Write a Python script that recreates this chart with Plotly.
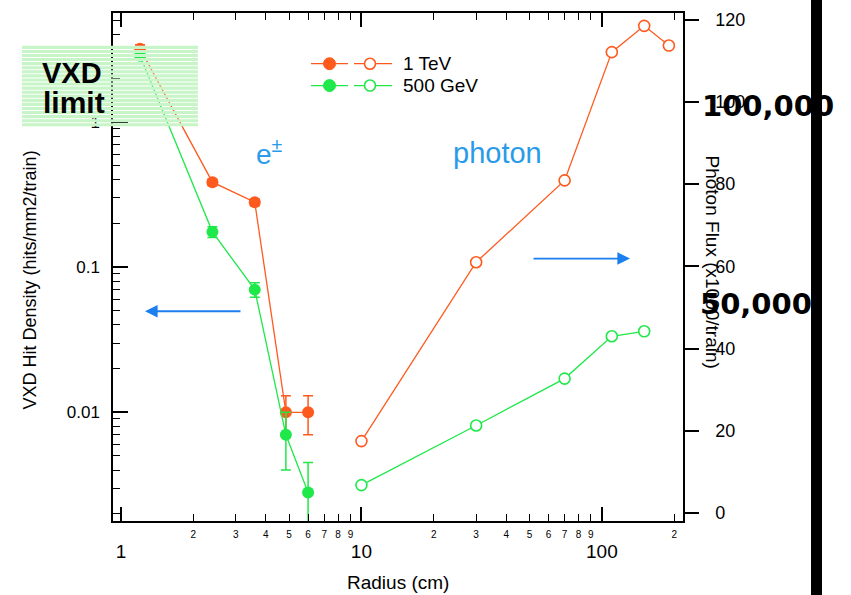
import plotly.graph_objects as go

# ---------------- data ----------------
radius_vxd = [1.2, 2.4, 3.6, 4.85, 6.0]
hits_1tev = [3.2, 0.385, 0.28, 0.0100, 0.0100]
err_1tev = [0.2, 0.02, 0.015, 0.003, 0.003]
hits_500gev = [2.86, 0.175, 0.070, 0.0070, 0.0028]
err_500gev = [0.15, 0.015, 0.008, 0.003, 0.0017]

radius_photon_1tev = [10, 30, 70, 110, 150, 190]
flux_1tev = [17.5, 61.0, 80.9, 112.1, 118.5, 113.7]
radius_photon_500gev = [10, 30, 70, 110, 150]
flux_500gev = [6.8, 21.3, 32.7, 43.0, 44.2]

x_major_vals = [1, 10, 100]
x_major_text = ["1", "10", "100"]
x_minor_vals = [2, 3, 4, 5, 6, 7, 8, 9, 20, 30, 40, 50, 60, 70, 80, 90, 200]
x_minor_text = ["2", "3", "4", "5", "6", "7", "8", "9", "2", "3", "4", "5", "6", "7", "8", "9", "2"]
y_major_vals = [0.01, 0.1, 1]
y_major_text = ["0.01", "0.1", "1"]
y_minor_vals = [m * d for d in [0.001, 0.01, 0.1, 1] for m in range(2, 10)]
y2_vals = [0, 20, 40, 60, 80, 100, 120]

ORANGE = "#ff5a1e"
GREEN = "#1fe84a"
BLUE = "#2a9be8"
ARROW = "#1b7ff0"

# ---------------- geometry helpers (pixels -> paper) ----------------
W, H = 851, 595
L, R, T, B = 113, 683, 10, 521
PW, PH = R - L, B - T


def px(x):
    return (x - L) / PW


def py(y):
    return (B - y) / PH


FONT = "Liberation Sans, Arial, Helvetica, sans-serif"

fig = go.Figure()

# filled series (left log axis)
fig.add_trace(go.Scatter(
    x=radius_vxd, y=hits_1tev, mode="lines+markers",
    line=dict(color=ORANGE, width=1.3),
    marker=dict(color=ORANGE, size=12, symbol="circle"),
    error_y=dict(type="data", array=err_1tev, color=ORANGE, thickness=1.5, width=5),
    xaxis="x", yaxis="y", showlegend=False))
fig.add_trace(go.Scatter(
    x=radius_vxd, y=hits_500gev, mode="lines+markers",
    line=dict(color=GREEN, width=1.3),
    marker=dict(color=GREEN, size=12, symbol="circle"),
    error_y=dict(type="data", array=err_500gev, color=GREEN, thickness=1.5, width=5),
    xaxis="x", yaxis="y", showlegend=False))

# open series (right linear axis)
fig.add_trace(go.Scatter(
    x=radius_photon_1tev, y=flux_1tev, mode="lines+markers",
    line=dict(color=ORANGE, width=1.3),
    marker=dict(color="white", size=11, symbol="circle", line=dict(color=ORANGE, width=1.6)),
    xaxis="x", yaxis="y2", showlegend=False))
fig.add_trace(go.Scatter(
    x=radius_photon_500gev, y=flux_500gev, mode="lines+markers",
    line=dict(color=GREEN, width=1.3),
    marker=dict(color="white", size=11, symbol="circle", line=dict(color=GREEN, width=1.6)),
    xaxis="x", yaxis="y2", showlegend=False))

# invisible trace so the minor-digit label axis (x2) is drawn
fig.add_trace(go.Scatter(
    x=radius_photon_1tev, y=flux_1tev, mode="markers",
    marker=dict(opacity=0, size=1), hoverinfo="skip",
    xaxis="x2", yaxis="y2", showlegend=False))

shapes = []
annotations = []

# VXD limit striped box (drawn above data)
box_x0, box_x1, box_y0, box_y1 = 22, 198, 43, 125
yy = box_y0
while yy < box_y1:
    y_end = min(yy + 3.1, box_y1)
    shapes.append(dict(type="rect", xref="paper", yref="paper",
                       x0=px(box_x0), x1=px(box_x1), y0=py(y_end), y1=py(yy),
                       fillcolor="#c8f5c8", line=dict(width=0), layer="above"))
    yy += 4.1

# legend (manual, two markers per row)
legend_rows = [(61, ORANGE, "1 TeV"), (83, GREEN, "500 GeV")]
for ry, col, label in legend_rows:
    shapes.append(dict(type="line", xref="paper", yref="paper",
                       x0=px(311), x1=px(348), y0=py(ry), y1=py(ry),
                       line=dict(color=col, width=1.3), layer="above"))
    shapes.append(dict(type="line", xref="paper", yref="paper",
                       x0=px(354), x1=px(392), y0=py(ry), y1=py(ry),
                       line=dict(color=col, width=1.3), layer="above"))
    shapes.append(dict(type="circle", xref="paper", yref="paper",
                       xsizemode="pixel", ysizemode="pixel",
                       xanchor=px(329.5), yanchor=py(ry),
                       x0=-6, x1=6, y0=-6, y1=6,
                       fillcolor=col, line=dict(color=col, width=1), layer="above"))
    shapes.append(dict(type="circle", xref="paper", yref="paper",
                       xsizemode="pixel", ysizemode="pixel",
                       xanchor=px(370), yanchor=py(ry),
                       x0=-5.5, x1=5.5, y0=-5.5, y1=5.5,
                       fillcolor="white", line=dict(color=col, width=1.6), layer="above"))
    annotations.append(dict(text=label, xref="paper", yref="paper",
                            x=px(401), y=py(ry), xanchor="left", yanchor="middle",
                            showarrow=False, font=dict(family=FONT, size=19, color="black")))

# black vertical bar at right
shapes.append(dict(type="rect", xref="paper", yref="paper",
                   x0=px(811), x1=px(822), y0=py(600), y1=py(-5),
                   fillcolor="black", line=dict(width=0), layer="above"))

# VXD limit text
annotations.append(dict(text="<b>VXD</b>", xref="paper", yref="paper",
                        x=px(72), y=py(70), xanchor="center", yanchor="middle",
                        showarrow=False, font=dict(family=FONT, size=29, color="black")))
annotations.append(dict(text="<b>limit</b>", xref="paper", yref="paper",
                        x=px(74), y=py(100), xanchor="center", yanchor="middle",
                        showarrow=False, font=dict(family=FONT, size=30, color="black")))

# e± and photon labels
annotations.append(dict(text="e<sup>±</sup>", xref="paper", yref="paper",
                        x=px(269), y=py(150), xanchor="center", yanchor="middle",
                        showarrow=False, font=dict(family=FONT, size=28, color=BLUE)))
annotations.append(dict(text="photon", xref="paper", yref="paper",
                        x=px(497), y=py(151), xanchor="center", yanchor="middle",
                        showarrow=False, font=dict(family=FONT, size=29, color=BLUE)))

# arrows
annotations.append(dict(text="", xref="paper", yref="paper",
                        x=px(145), y=py(310), ax=242 - 145, ay=0,
                        showarrow=True, arrowhead=2, arrowsize=1.4, arrowwidth=1.8,
                        arrowcolor=ARROW, standoff=0))
annotations.append(dict(text="", xref="paper", yref="paper",
                        x=px(630), y=py(257), ax=532 - 630, ay=0,
                        showarrow=True, arrowhead=2, arrowsize=1.4, arrowwidth=1.8,
                        arrowcolor=ARROW, standoff=0))

# axis titles
annotations.append(dict(text="Radius (cm)", xref="paper", yref="paper",
                        x=px(398), y=py(583), xanchor="center", yanchor="middle",
                        showarrow=False, font=dict(family=FONT, size=19, color="black")))
annotations.append(dict(text="VXD Hit Density (hits/mm2/train)", xref="paper", yref="paper",
                        x=px(30), y=py(279), xanchor="center", yanchor="middle", textangle=-90,
                        showarrow=False, font=dict(family=FONT, size=18, color="black")))
annotations.append(dict(text="Photon Flux (x1000/train)", xref="paper", yref="paper",
                        x=px(712), y=py(260), xanchor="center", yanchor="middle", textangle=90,
                        showarrow=False, font=dict(family=FONT, size=19, color="black")))

# big overlay numbers
annotations.append(dict(text="<b>100,000</b>", xref="paper", yref="paper",
                        x=px(700), y=py(104), xanchor="left", yanchor="middle",
                        showarrow=False, font=dict(family="DejaVu Sans", size=29, color="black")))
annotations.append(dict(text="<b>50,000</b>", xref="paper", yref="paper",
                        x=px(698), y=py(303), xanchor="left", yanchor="middle",
                        showarrow=False, font=dict(family="DejaVu Sans", size=29, color="black")))

fig.update_layout(
    width=W, height=H,
    margin=dict(l=L, r=W - R, t=T, b=H - B, pad=0),
    paper_bgcolor="white", plot_bgcolor="white",
    font=dict(family=FONT, color="black"),
    showlegend=False,
    xaxis=dict(
        type="log", range=[-0.0333, 2.3375],
        tickmode="array", tickvals=x_major_vals, ticktext=x_major_text,
        ticks="inside", ticklen=14, tickwidth=1.5, tickcolor="black",
        minor=dict(tickmode="array", tickvals=x_minor_vals, ticks="inside", ticklen=7,
                   tickwidth=1.3, tickcolor="black", showgrid=False),
        showline=True, linecolor="black", linewidth=1.5, mirror="ticks",
        showgrid=False, zeroline=False,
        tickfont=dict(size=19), ticklabelstandoff=12,
    ),
    xaxis2=dict(
        type="log", range=[-0.0333, 2.3375], overlaying="x", anchor="y", side="bottom",
        tickmode="array", tickvals=x_minor_vals, ticktext=x_minor_text,
        ticks="", showline=False, showgrid=False, zeroline=False,
        tickfont=dict(size=10), ticklabelstandoff=6,
    ),
    yaxis=dict(
        type="log", range=[-2.749, 0.751],
        tickmode="array", tickvals=y_major_vals, ticktext=y_major_text,
        ticks="inside", ticklen=15, tickwidth=1.5, tickcolor="black",
        minor=dict(tickmode="array", tickvals=y_minor_vals, ticks="inside", ticklen=7,
                   tickwidth=1.3, tickcolor="black", showgrid=False),
        showline=True, linecolor="black", linewidth=1.5,
        showgrid=False, zeroline=False,
        tickfont=dict(size=17), ticklabelstandoff=8,
    ),
    yaxis2=dict(
        overlaying="y", side="right", anchor="x", range=[-1.934, 121.62],
        tickmode="array", tickvals=y2_vals,
        ticks="outside", ticklen=14, tickwidth=1.5, tickcolor="black",
        showline=True, linecolor="black", linewidth=1.5,
        showgrid=False, zeroline=False,
        tickfont=dict(size=18), ticklabelstandoff=13,
    ),
    shapes=shapes,
    annotations=annotations,
)

fig.write_html("out.html")
